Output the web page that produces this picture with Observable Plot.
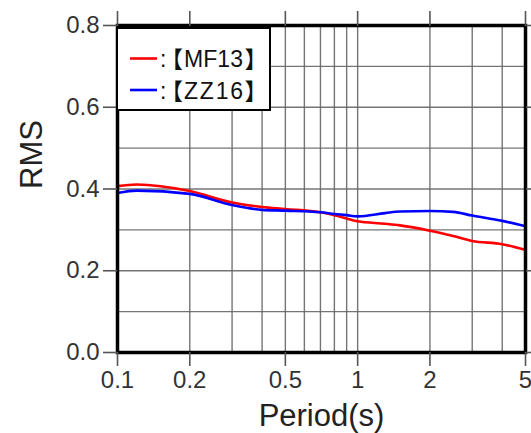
<!DOCTYPE html>
<html>
<head>
<meta charset="utf-8">
<script src="https://cdn.jsdelivr.net/npm/d3@7"></script>
<script src="https://cdn.jsdelivr.net/npm/@observablehq/plot@0.6"></script>
<style>
  html, body { margin: 0; padding: 0; background: white; }
  #chart { width: 531px; height: 433px; }
  .palt { font-feature-settings: "palt" 1; }
</style>
</head>
<body>
<div id="chart"></div>
<script>
const periods = [0.1, 0.12, 0.2, 0.3, 0.4, 0.5, 0.7, 0.8, 0.9, 1.0, 1.3, 1.5, 2, 2.5, 3, 4, 5];
const mf13 = [0.407, 0.411, 0.395, 0.367, 0.356, 0.351, 0.343, 0.336, 0.328, 0.321, 0.315, 0.311, 0.298, 0.285, 0.273, 0.265, 0.251];
const zz16 = [0.390, 0.396, 0.388, 0.361, 0.349, 0.347, 0.343, 0.339, 0.336, 0.333, 0.341, 0.345, 0.346, 0.344, 0.335, 0.322, 0.309];
const seriesCodes = ["MF13", "ZZ16"];
const seriesNames = seriesCodes.map(c => "【" + c + "】");
const seriesColors = ["#ff0000", "#0000ff"];
const xTicks = [0.1, 0.2, 0.5, 1, 2, 5];
const xGrid = [0.1, 0.2, 0.3, 0.4, 0.5, 0.6, 0.7, 0.8, 0.9, 1, 2, 3, 4, 5];
const yTicks = [0, 0.2, 0.4, 0.6, 0.8];
const yGrid = [0.1, 0.2, 0.3, 0.4, 0.5, 0.6, 0.7];

const rows = [];
periods.forEach((p, i) => {
  rows.push({period: p, rms: mf13[i], series: seriesNames[0]});
  rows.push({period: p, rms: zz16[i], series: seriesNames[1]});
});

const font = "'Liberation Sans', Arial, 'Noto Sans CJK JP', sans-serif";
const cjk = "'Noto Sans CJK JP', sans-serif";
const tickStyle = {stroke: "#555", strokeWidth: 1.6};

const chart = Plot.plot({
  width: 531,
  height: 433,
  marginLeft: 117,
  marginRight: 6,
  marginTop: 25,
  marginBottom: 81,
  style: {fontFamily: font, fontSize: "24px", color: "#333", background: "white"},
  x: {type: "log", domain: [0.1, 5], label: null},
  y: {domain: [0, 0.8], label: null},
  color: {domain: seriesNames, range: seriesColors},
  marks: [
    Plot.gridX({ticks: xGrid, stroke: "#666", strokeOpacity: 0.9, strokeWidth: 1.4}),
    Plot.gridY({ticks: yGrid, stroke: "#666", strokeOpacity: 0.9, strokeWidth: 1.4}),
    Plot.line(rows, {x: "period", y: "rms", z: "series", stroke: "series", strokeWidth: 2.6, curve: "monotone-x"}),
    Plot.frame({stroke: "black", strokeWidth: 3.5}),
    Plot.axisX({ticks: xTicks, anchor: "bottom", tickSize: 14, tickPadding: 4, fontSize: 24, ...tickStyle, tickFormat: d => String(d)}),
    Plot.axisX({ticks: xTicks, anchor: "top", tickSize: 15, text: null, ...tickStyle}),
    Plot.axisY({ticks: yTicks, anchor: "left", tickSize: 14, tickPadding: 4, fontSize: 24, ...tickStyle, tickFormat: d => d.toFixed(1)}),
    Plot.axisY({ticks: yTicks, anchor: "right", tickSize: 10, text: null, ...tickStyle}),
    Plot.text(["RMS"], {frameAnchor: "left", rotate: -90, dx: -85, lineAnchor: "middle", fontSize: 31, fill: "#222"}),
    Plot.text(["Period(s)"], {frameAnchor: "bottom", dy: 64, lineAnchor: "middle", fontSize: 31, fill: "#222"})
  ]
});

document.getElementById("chart").appendChild(chart);

// Legend
const svg = d3.select(chart);
const lg = svg.append("g").attr("fill", "#111").attr("text-anchor", "start");
lg.append("rect").attr("x", 117).attr("y", 28).attr("width", 153).attr("height", 82)
  .attr("fill", "white").attr("stroke", "black").attr("stroke-width", 2);
seriesCodes.forEach((code, i) => {
  const cy = 58.5 + i * 31.5;
  const base = cy + 8.5;
  lg.append("line").attr("x1", 130).attr("x2", 157).attr("y1", cy).attr("y2", cy)
    .attr("stroke", seriesColors[i]).attr("stroke-width", 2.6);
  lg.append("text").attr("x", 160).attr("y", base).attr("font-family", font).attr("font-size", 23)
    .attr("text-anchor", "start").text(":");
  lg.append("text").attr("class", "palt").attr("x", 171).attr("y", base + 1).attr("font-family", cjk).attr("font-size", 23)
    .attr("text-anchor", "start").text("【");
  lg.append("text").attr("x", 184).attr("y", base).attr("font-family", font).attr("font-size", 23)
    .attr("text-anchor", "start").attr("textLength", 59).attr("lengthAdjust", "spacing").text(code);
  lg.append("text").attr("class", "palt").attr("x", 245).attr("y", base + 1).attr("font-family", cjk).attr("font-size", 23)
    .attr("text-anchor", "start").text("】");
});
</script>
</body>
</html>
